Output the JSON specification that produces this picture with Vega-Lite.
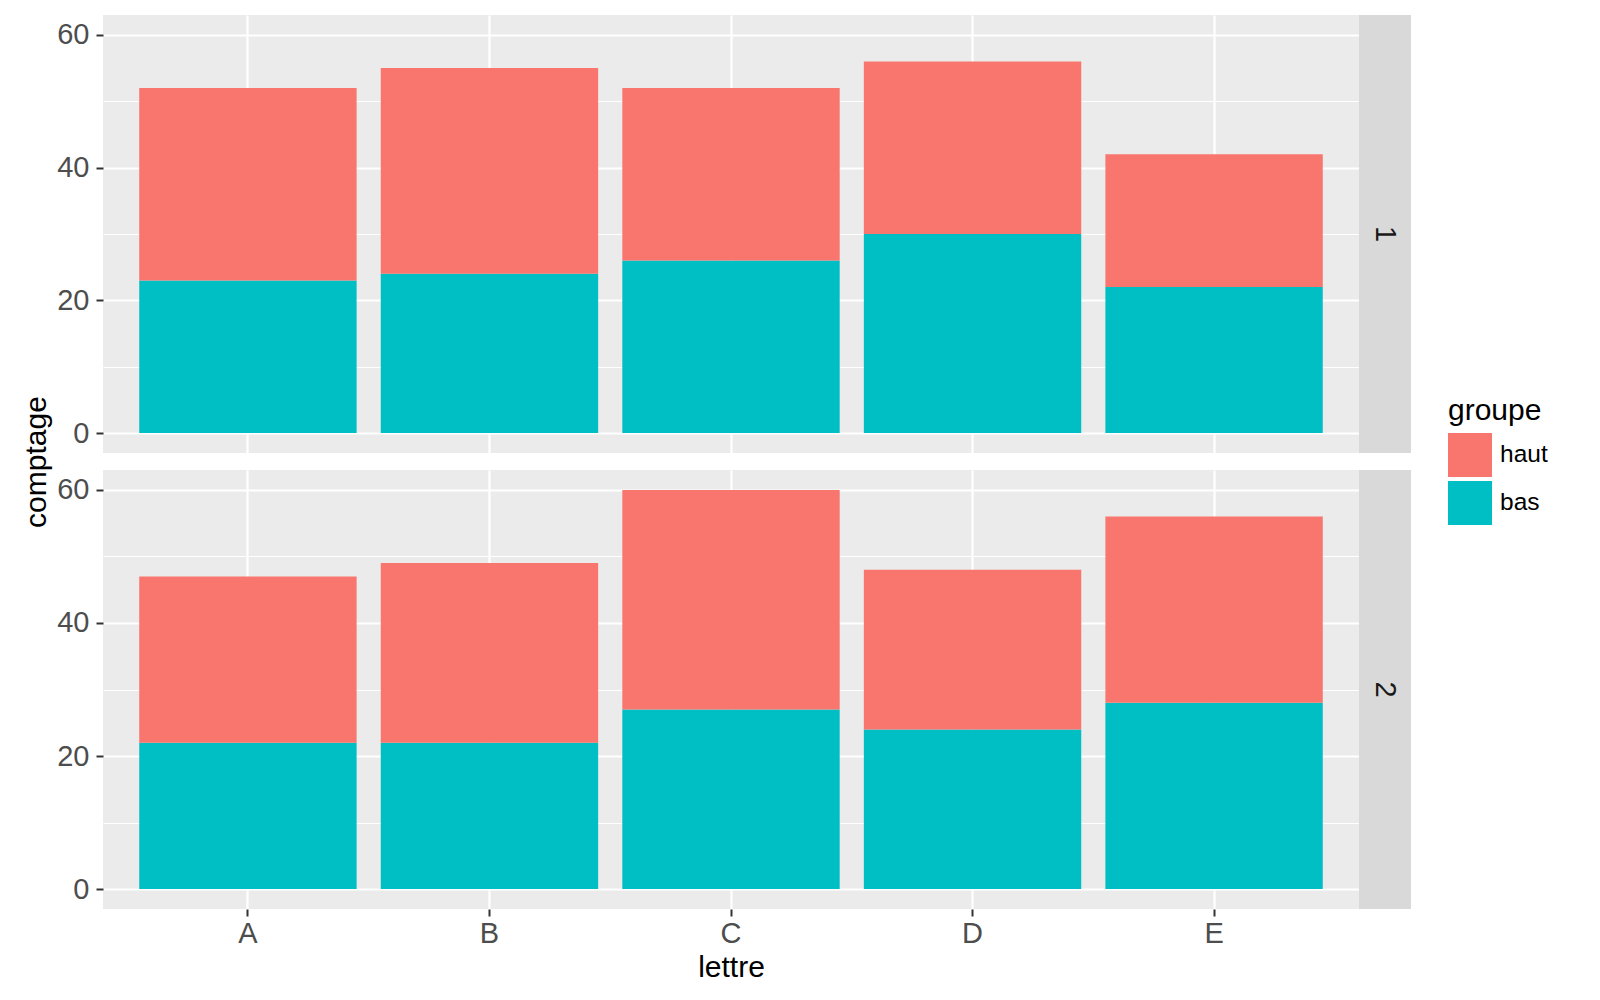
{
  "$schema": "https://vega.github.io/schema/vega-lite/v6.json",
  "datasets": {
    "comptes": [
      {"panneau": 1, "lettre": "A", "groupe": "bas", "comptage": 23},
      {"panneau": 1, "lettre": "A", "groupe": "haut", "comptage": 29},
      {"panneau": 1, "lettre": "B", "groupe": "bas", "comptage": 24},
      {"panneau": 1, "lettre": "B", "groupe": "haut", "comptage": 31},
      {"panneau": 1, "lettre": "C", "groupe": "bas", "comptage": 26},
      {"panneau": 1, "lettre": "C", "groupe": "haut", "comptage": 26},
      {"panneau": 1, "lettre": "D", "groupe": "bas", "comptage": 30},
      {"panneau": 1, "lettre": "D", "groupe": "haut", "comptage": 26},
      {"panneau": 1, "lettre": "E", "groupe": "bas", "comptage": 22},
      {"panneau": 1, "lettre": "E", "groupe": "haut", "comptage": 20},
      {"panneau": 2, "lettre": "A", "groupe": "bas", "comptage": 22},
      {"panneau": 2, "lettre": "A", "groupe": "haut", "comptage": 25},
      {"panneau": 2, "lettre": "B", "groupe": "bas", "comptage": 22},
      {"panneau": 2, "lettre": "B", "groupe": "haut", "comptage": 27},
      {"panneau": 2, "lettre": "C", "groupe": "bas", "comptage": 27},
      {"panneau": 2, "lettre": "C", "groupe": "haut", "comptage": 33},
      {"panneau": 2, "lettre": "D", "groupe": "bas", "comptage": 24},
      {"panneau": 2, "lettre": "D", "groupe": "haut", "comptage": 24},
      {"panneau": 2, "lettre": "E", "groupe": "bas", "comptage": 28},
      {"panneau": 2, "lettre": "E", "groupe": "haut", "comptage": 28}
    ]
  },
  "padding": {"left": 19, "top": 15, "right": 0, "bottom": 0},
  "config": {
    "font": "Liberation Sans",
    "view": {"stroke": null},
    "axis": {
      "labelFont": "Liberation Sans",
      "titleFont": "Liberation Sans",
      "labelFontSize": 29,
      "labelColor": "#4D4D4D",
      "titleFontSize": 30,
      "titleColor": "#000000",
      "titleFontWeight": "normal",
      "tickColor": "#333333",
      "tickSize": 7,
      "tickWidth": 2,
      "domain": false,
      "gridColor": "#FFFFFF"
    },
    "legend": {
      "labelFont": "Liberation Sans",
      "titleFont": "Liberation Sans"
    }
  },
  "spacing": 1,
  "hconcat": [
    {
      "width": 36,
      "height": 894,
      "data": {"values": [{"titre": "comptage"}]},
      "mark": {"type": "text", "angle": 270, "fontSize": 30, "color": "#000000", "font": "Liberation Sans"},
      "encoding": {"text": {"field": "titre"}},
      "view": {"fill": null, "stroke": null}
    },
    {
      "spacing": 17,
      "vconcat": [
        {
          "spacing": 0,
          "hconcat": [
            {
              "width": 1256,
              "height": 438,
              "view": {"fill": "#EBEBEB", "stroke": null},
              "data": {"name": "comptes"},
              "transform": [{"filter": "datum.panneau == 1"}],
              "mark": {"type": "bar"},
              "encoding": {
                "x": {
                  "field": "lettre", "type": "nominal",
                  "scale": {"paddingInner": 0.1, "paddingOuter": 0.15},
                  "axis": {"title": null, "labels": false, "ticks": false, "grid": true, "gridWidth": 2.2, "bandPosition": 0.5}
                },
                "y": {
                  "field": "comptage", "type": "quantitative", "aggregate": "sum", "stack": "zero",
                  "scale": {"domain": [-3, 63], "nice": false, "zero": false},
                  "axis": {
                    "title": null,
                    "values": [0, 10, 20, 30, 40, 50, 60],
                    "grid": true,
                    "gridWidth": {"condition": {"test": "datum.value % 20 === 0", "value": 2.2}, "value": 1.1},
                    "tickOpacity": {"condition": {"test": "datum.value % 20 === 0", "value": 1}, "value": 0},
                    "labelExpr": "datum.value % 20 === 0 ? datum.label : ''",
                    "labelPadding": 7
                  }
                },
                "color": {
                  "field": "groupe", "type": "nominal",
                  "scale": {"domain": ["haut", "bas"], "range": ["#F8766D", "#00BFC4"]},
                  "legend": {
                    "title": "groupe", "orient": "none", "legendX": 1429, "legendY": 381,
                    "symbolType": "square", "symbolSize": 1936, "symbolStrokeWidth": 0,
                    "labelFontSize": 24.5, "titleFontSize": 30, "titleFontWeight": "normal",
                    "titleColor": "#000000", "labelColor": "#000000",
                    "labelOffset": 8, "rowPadding": 4, "titlePadding": 7, "padding": 0
                  }
                },
                "order": {"field": "groupe", "sort": "ascending"}
              }
            },
            {
              "width": 52,
              "height": 438,
              "view": {"fill": "#D9D9D9", "stroke": null},
              "data": {"values": [{"panneau": "1"}]},
              "mark": {"type": "text", "angle": 90, "fontSize": 29, "color": "#1A1A1A", "font": "Liberation Sans"},
              "encoding": {"text": {"field": "panneau"}}
            }
          ]
        },
        {
          "spacing": 0,
          "hconcat": [
            {
              "width": 1256,
              "height": 439,
              "view": {"fill": "#EBEBEB", "stroke": null},
              "data": {"name": "comptes"},
              "transform": [{"filter": "datum.panneau == 2"}],
              "mark": {"type": "bar"},
              "encoding": {
                "x": {
                  "field": "lettre", "type": "nominal",
                  "scale": {"paddingInner": 0.1, "paddingOuter": 0.15},
                  "axis": {"title": "lettre", "labelAngle": 0, "grid": true, "gridWidth": 2.2, "bandPosition": 0.5, "labelPadding": 3, "titlePadding": 4}
                },
                "y": {
                  "field": "comptage", "type": "quantitative", "aggregate": "sum", "stack": "zero",
                  "scale": {"domain": [-3, 63], "nice": false, "zero": false},
                  "axis": {
                    "title": null,
                    "values": [0, 10, 20, 30, 40, 50, 60],
                    "grid": true,
                    "gridWidth": {"condition": {"test": "datum.value % 20 === 0", "value": 2.2}, "value": 1.1},
                    "tickOpacity": {"condition": {"test": "datum.value % 20 === 0", "value": 1}, "value": 0},
                    "labelExpr": "datum.value % 20 === 0 ? datum.label : ''",
                    "labelPadding": 7
                  }
                },
                "color": {
                  "field": "groupe", "type": "nominal",
                  "scale": {"domain": ["haut", "bas"], "range": ["#F8766D", "#00BFC4"]},
                  "legend": {
                    "title": "groupe", "orient": "none", "legendX": 1429, "legendY": 381,
                    "symbolType": "square", "symbolSize": 1936, "symbolStrokeWidth": 0,
                    "labelFontSize": 24.5, "titleFontSize": 30, "titleFontWeight": "normal",
                    "titleColor": "#000000", "labelColor": "#000000",
                    "labelOffset": 8, "rowPadding": 4, "titlePadding": 7, "padding": 0
                  }
                },
                "order": {"field": "groupe", "sort": "ascending"}
              }
            },
            {
              "width": 52,
              "height": 439,
              "view": {"fill": "#D9D9D9", "stroke": null},
              "data": {"values": [{"panneau": "2"}]},
              "mark": {"type": "text", "angle": 90, "fontSize": 29, "color": "#1A1A1A", "font": "Liberation Sans"},
              "encoding": {"text": {"field": "panneau"}}
            }
          ]
        }
      ]
    }
  ]
}
